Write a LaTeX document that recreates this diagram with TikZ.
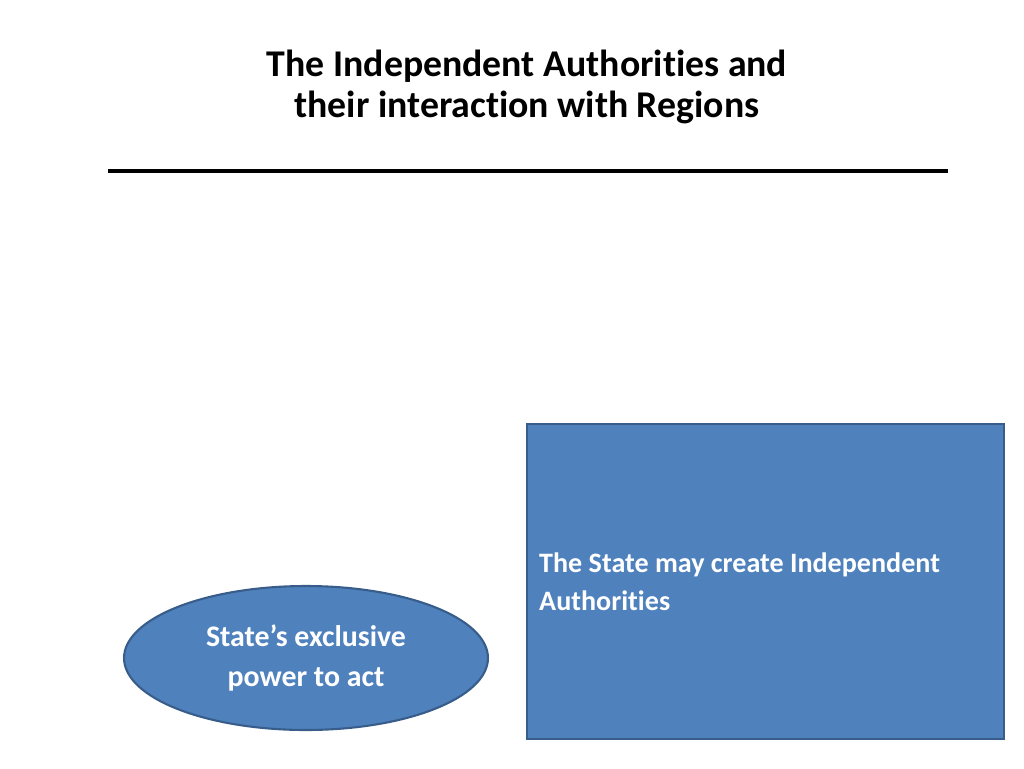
\documentclass[tikz,border=0pt]{standalone}
\usepackage{fontspec}
\setmainfont[RawFeature={-liga}]{Carlito}
\usetikzlibrary{shapes.geometric}
\definecolor{boxblue}{HTML}{4F81BD}
\definecolor{boxedge}{HTML}{385D8A}
\tikzset{
  bluebox/.style={draw=boxedge, line width=1.2pt, fill=boxblue},
  whitetext/.style={text=white, font=\bfseries\fontsize{16}{21.5}\selectfont}
}
\begin{document}
\begin{tikzpicture}[x=0.02cm, y=-0.02cm]
   \useasboundingbox (0,0) rectangle (1024,768);
   \node[font=\bfseries\fontsize{21.5}{23}\selectfont, align=center] (title) at (527,87)
        {The Independent Authorities and\\their interaction with Regions};
   \coordinate (ruleL) at (108,171);
   \coordinate (ruleR) at (948,171);
   \draw[line width=2pt] (ruleL) -- (ruleR);

   \draw[bluebox] (527,424) rectangle (1004,739);
   \node[whitetext, anchor=west, align=left] (state) at (533,582)
        {The State may create Independent\\Authorities};

   \node[bluebox, ellipse, minimum width=7.28cm,
         minimum height=2.88cm, whitetext, align=center,
         font=\bfseries\fontsize{17}{22.5}\selectfont] (power) at (306,658)
        {State’s exclusive\\power to act};
\end{tikzpicture}
\end{document}
